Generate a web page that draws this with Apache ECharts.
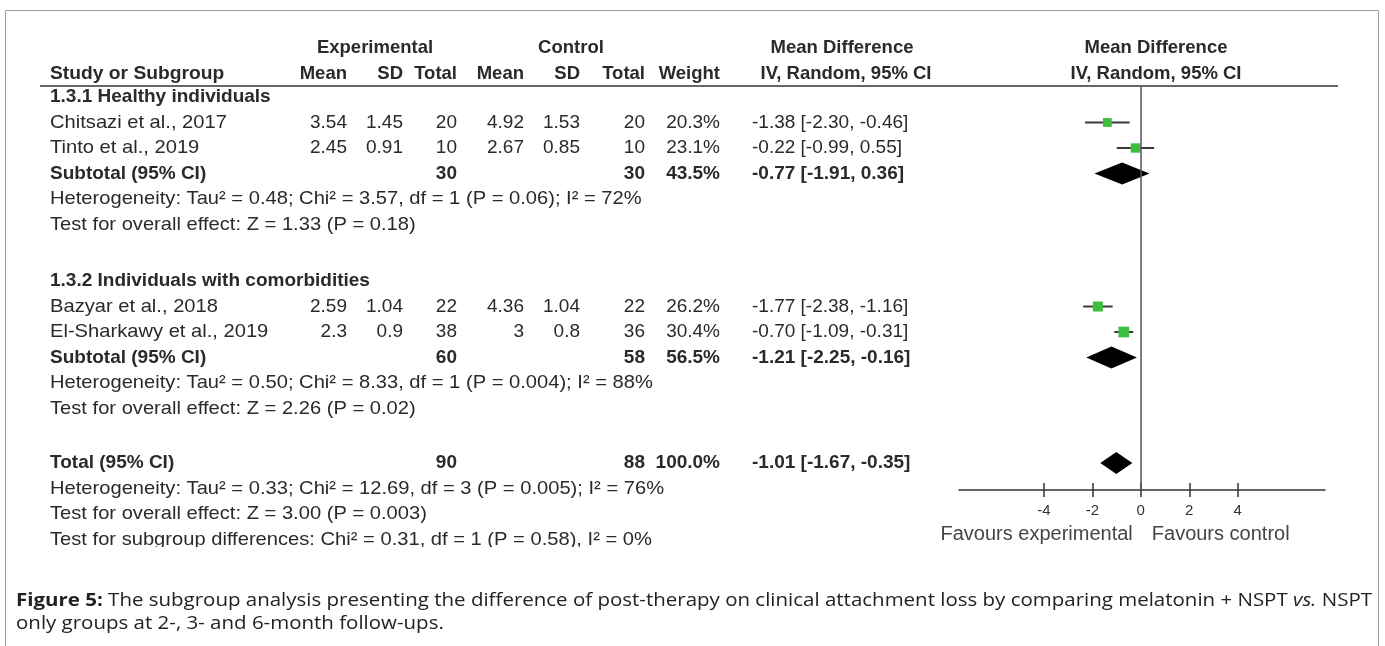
<!DOCTYPE html>
<html><head><meta charset="utf-8">
<script src="https://cdn.jsdelivr.net/npm/echarts/dist/echarts.min.js"></script>
<style>html,body{margin:0;padding:0;background:#fff}#c{width:1385px;height:646px}</style>
</head><body><div id="c"></div>
<script>
// ---------------- data ----------------
const studyNames = ['Chitsazi et al., 2017', 'Tinto et al., 2019', 'Bazyar et al., 2018', 'El-Sharkawy et al., 2019'];
const studyGroup = [0, 0, 1, 1];
const expMean = [3.54, 2.45, 2.59, 2.3];
const expSD = [1.45, 0.91, 1.04, 0.9];
const expTotal = [20, 10, 22, 38];
const ctlMean = [4.92, 2.67, 4.36, 3];
const ctlSD = [1.53, 0.85, 1.04, 0.8];
const ctlTotal = [20, 10, 22, 36];
const studyWeight = [20.3, 23.1, 26.2, 30.4];
const studyMD = [-1.38, -0.22, -1.77, -0.70];
const studyLow = [-2.30, -0.99, -2.38, -1.09];
const studyHigh = [-0.46, 0.55, -1.16, -0.31];

const groupNames = ['1.3.1 Healthy individuals', '1.3.2 Individuals with comorbidities'];
const groupExpTotal = [30, 60];
const groupCtlTotal = [30, 58];
const groupWeight = [43.5, 56.5];
const groupMD = [-0.77, -1.21];
const groupLow = [-1.91, -2.25];
const groupHigh = [0.36, -0.16];
const groupHet = ['Heterogeneity: Tau\u00B2 = 0.48; Chi\u00B2 = 3.57, df = 1 (P = 0.06); I\u00B2 = 72%',
                  'Heterogeneity: Tau\u00B2 = 0.50; Chi\u00B2 = 8.33, df = 1 (P = 0.004); I\u00B2 = 88%'];
const groupTest = ['Test for overall effect: Z = 1.33 (P = 0.18)', 'Test for overall effect: Z = 2.26 (P = 0.02)'];

const totalExp = [90];
const totalCtl = [88];
const totalWeight = [100.0];
const totalMD = [-1.01];
const totalLow = [-1.67];
const totalHigh = [-0.35];
const totalHet = 'Heterogeneity: Tau\u00B2 = 0.33; Chi\u00B2 = 12.69, df = 3 (P = 0.005); I\u00B2 = 76%';
const totalTest = 'Test for overall effect: Z = 3.00 (P = 0.003)';
const subgroupTest = 'Test for subgroup differences: Chi\u00B2 = 0.31, df = 1 (P = 0.58), I\u00B2 = 0%';

const axisTicks = [-4, -2, 0, 2, 4];
const favourLabels = ['Favours experimental', 'Favours control'];
const headerTop = ['Experimental', 'Control', 'Mean Difference', 'Mean Difference'];
const headerCols = ['Study or Subgroup', 'Mean', 'SD', 'Total', 'Mean', 'SD', 'Total', 'Weight', 'IV, Random, 95% CI', 'IV, Random, 95% CI'];
const captionBold = 'Figure 5:';
const captionText1 = ' The subgroup analysis presenting the difference of post-therapy on clinical attachment loss by comparing melatonin + NSPT ';
const captionItalic = 'vs.';
const captionText1b = ' NSPT';
const captionText2 = 'only groups at 2-, 3- and 6-month follow-ups.';

// ---------------- layout ----------------
const FF = '"Liberation Sans", Arial, sans-serif';
const CF = '"Open Sans", sans-serif';
const BODY = 19, HEAD = 18.5;
const NAME_SCALE = 1.06;
const TXT = '#2a2a2a';
const TOP0 = 97, PITCH = 25.5, GRID_TOP = 86, AXIS_Y = 490;
const SPACER_GROUP = 1.216, SPACER_TOTAL = 1.137;
const yMin = (GRID_TOP - TOP0) / PITCH, yMax = (AXIS_Y - TOP0) / PITCH;
const COL = { name: 50, expMean: 347, expSD: 403, expTotal: 457, ctlMean: 524, ctlSD: 580, ctlTotal: 645, weight: 720, ci: 752 };

const fmt2 = v => v.toFixed(2);
const ciText = (m, l, h) => fmt2(m) + ' [' + fmt2(l) + ', ' + fmt2(h) + ']';

// build row structure from data
const rows = [];
const studyPts = [];
const diamondPts = [];
let r = 0;
groupNames.forEach((g, gi) => {
  if (gi > 0) r += SPACER_GROUP;
  rows.push({ r, cells: [{ c: 'name', t: g, b: true }] }); r++;
  studyNames.forEach((n, i) => {
    if (studyGroup[i] !== gi) return;
    rows.push({ r, cells: [
      { c: 'name', t: n }, { c: 'expMean', t: String(expMean[i]) }, { c: 'expSD', t: String(expSD[i]) },
      { c: 'expTotal', t: String(expTotal[i]) }, { c: 'ctlMean', t: String(ctlMean[i]) }, { c: 'ctlSD', t: String(ctlSD[i]) },
      { c: 'ctlTotal', t: String(ctlTotal[i]) }, { c: 'weight', t: studyWeight[i].toFixed(1) + '%' },
      { c: 'ci', t: ciText(studyMD[i], studyLow[i], studyHigh[i]) }] });
    studyPts.push([studyMD[i], r, studyLow[i], studyHigh[i], studyWeight[i]]);
    r++;
  });
  rows.push({ r, cells: [
    { c: 'name', t: 'Subtotal (95% CI)', b: true }, { c: 'expTotal', t: String(groupExpTotal[gi]), b: true },
    { c: 'ctlTotal', t: String(groupCtlTotal[gi]), b: true }, { c: 'weight', t: groupWeight[gi].toFixed(1) + '%', b: true },
    { c: 'ci', t: ciText(groupMD[gi], groupLow[gi], groupHigh[gi]), b: true }] });
  diamondPts.push([groupMD[gi], r, groupLow[gi], groupHigh[gi]]);
  r++;
  rows.push({ r, cells: [{ c: 'name', t: groupHet[gi] }] }); r++;
  rows.push({ r, cells: [{ c: 'name', t: groupTest[gi] }] }); r++;
});
r += SPACER_TOTAL;
rows.push({ r, cells: [
  { c: 'name', t: 'Total (95% CI)', b: true }, { c: 'expTotal', t: String(totalExp[0]), b: true },
  { c: 'ctlTotal', t: String(totalCtl[0]), b: true }, { c: 'weight', t: totalWeight[0].toFixed(1) + '%', b: true },
  { c: 'ci', t: ciText(totalMD[0], totalLow[0], totalHigh[0]), b: true }] });
diamondPts.push([totalMD[0], r, totalLow[0], totalHigh[0]]);
r++;
rows.push({ r, cells: [{ c: 'name', t: totalHet }] }); r++;
rows.push({ r, cells: [{ c: 'name', t: totalTest }] }); r++;
// the source figure is cropped just under this last line
rows.push({ r, cropped: true, cells: [{ c: 'name', t: subgroupTest }] }); r++;

const alignOf = c => (c === 'name' || c === 'ci') ? 'left' : 'right';

const chart = echarts.init(document.getElementById('c'));

function txt(x, y, text, opt) {
  opt = opt || {};
  return {
    type: 'text', x: x, y: y, silent: true, z: 10, scaleX: opt.scaleX || 1, originX: 0, originY: 0,
    style: {
      text: text, fill: opt.fill || TXT,
      fontSize: opt.size || BODY, fontFamily: opt.family || FF, fontWeight: opt.bold ? 'bold' : 'normal',
      textAlign: opt.align || 'left', align: opt.align || 'left',
      textVerticalAlign: 'middle', verticalAlign: 'middle'
    }
  };
}

// caption width fitting
const mctx = document.createElement('canvas').getContext('2d');
function measure(str, font) { mctx.font = font; return mctx.measureText(str).width; }
const CAP_SIZE = 18;
const capW = measure(captionBold, 'bold ' + CAP_SIZE + 'px ' + CF) + measure(captionText1 + captionText1b, CAP_SIZE + 'px ' + CF) + measure(captionItalic, 'italic ' + CAP_SIZE + 'px ' + CF);
const capScale = (1372 - 16) / capW;

const graphics = [
  { type: 'rect', shape: { x: 5.5, y: 10.5, width: 1373, height: 700 }, style: { fill: 'none', stroke: '#9a9a9a', lineWidth: 1 }, silent: true },
  { type: 'line', shape: { x1: 40, y1: GRID_TOP, x2: 1338, y2: GRID_TOP }, style: { stroke: '#333', lineWidth: 1.5 }, silent: true, z: 5 },
  txt(375, 48, headerTop[0], { bold: true, size: HEAD, align: 'center' }),
  txt(571, 48, headerTop[1], { bold: true, size: HEAD, align: 'center' }),
  txt(842, 48, headerTop[2], { bold: true, size: HEAD, align: 'center' }),
  txt(1156, 48, headerTop[3], { bold: true, size: HEAD, align: 'center' }),
  txt(COL.name, 74, headerCols[0], { bold: true, size: HEAD, scaleX: 1.04 }),
  txt(COL.expMean, 74, headerCols[1], { bold: true, size: HEAD, align: 'right' }),
  txt(COL.expSD, 74, headerCols[2], { bold: true, size: HEAD, align: 'right' }),
  txt(COL.expTotal, 74, headerCols[3], { bold: true, size: HEAD, align: 'right' }),
  txt(COL.ctlMean, 74, headerCols[4], { bold: true, size: HEAD, align: 'right' }),
  txt(COL.ctlSD, 74, headerCols[5], { bold: true, size: HEAD, align: 'right' }),
  txt(COL.ctlTotal, 74, headerCols[6], { bold: true, size: HEAD, align: 'right' }),
  txt(COL.weight, 74, headerCols[7], { bold: true, size: HEAD, align: 'right' }),
  txt(846, 74, headerCols[8], { bold: true, size: HEAD, align: 'center' }),
  txt(1156, 74, headerCols[9], { bold: true, size: HEAD, align: 'center' }),
  {
    type: 'text', x: 16, y: 601, scaleX: capScale, originX: 0, originY: 0, silent: true,
    style: {
      text: '{b|' + captionBold + '}' + captionText1 + '{i|' + captionItalic + '}' + captionText1b,
      fontSize: CAP_SIZE, fontFamily: CF, fill: '#222', verticalAlign: 'middle', textVerticalAlign: 'middle',
      rich: { b: { fontWeight: 'bold', fontSize: CAP_SIZE, fontFamily: CF, fill: '#222' }, i: { fontStyle: 'italic', fontSize: CAP_SIZE, fontFamily: CF, fill: '#222' } }
    }
  },
  {
    type: 'text', x: 16, y: 624, scaleX: capScale, originX: 0, originY: 0, silent: true,
    style: { text: captionText2, fontSize: CAP_SIZE, fontFamily: CF, fill: '#222', verticalAlign: 'middle', textVerticalAlign: 'middle' }
  }
];

const xBase = { type: 'value', min: -7.5, max: 7.6, gridIndex: 0, position: 'bottom', splitLine: { show: false } };

chart.setOption({
  animation: false,
  grid: [{ left: 959, width: 366, top: GRID_TOP, height: AXIS_Y - GRID_TOP }],
  xAxis: [
    Object.assign({}, xBase, {
      axisLine: { show: true, onZero: false, lineStyle: { color: '#333', width: 1.5 } },
      axisTick: { show: true, customValues: axisTicks, length: 7, lineStyle: { color: '#333', width: 1.5 } },
      axisLabel: { show: true, customValues: axisTicks, fontSize: 15, color: '#333', margin: 13, fontFamily: FF }
    }),
    Object.assign({}, xBase, {
      axisLine: { show: false, onZero: false },
      axisTick: { show: true, inside: true, customValues: axisTicks, length: 7, lineStyle: { color: '#333', width: 1.5 } },
      axisLabel: { show: false }
    })
  ],
  yAxis: [{ type: 'value', inverse: true, min: yMin, max: yMax, show: false, gridIndex: 0 }],
  graphic: graphics,
  series: [
    {
      type: 'custom', name: 'studies', xAxisIndex: 0, yAxisIndex: 0, clip: false,
      data: studyPts, encode: { x: [0, 2, 3], y: 1 },
      renderItem: function (params, api) {
        const rr = api.value(1);
        const pm = api.coord([api.value(0), rr]);
        const pl = api.coord([api.value(2), rr]);
        const ph = api.coord([api.value(3), rr]);
        const s = 1.95 * Math.sqrt(api.value(4));
        return { type: 'group', children: [
          { type: 'line', shape: { x1: pl[0], y1: pl[1], x2: ph[0], y2: ph[1] }, style: { stroke: '#3a3a3a', lineWidth: 2 } },
          { type: 'rect', shape: { x: pm[0] - s / 2, y: pm[1] - s / 2, width: s, height: s }, style: { fill: '#3cbf3c' } }
        ] };
      },
      markLine: {
        silent: true, symbol: 'none', label: { show: false },
        lineStyle: { color: '#555', width: 1.5, type: 'solid' },
        data: [{ xAxis: 0 }]
      },
      z: 3
    },
    {
      type: 'custom', name: 'diamonds', xAxisIndex: 0, yAxisIndex: 0, clip: false,
      data: diamondPts, encode: { x: [0, 2, 3], y: 1 },
      renderItem: function (params, api) {
        const rr = api.value(1);
        const pm = api.coord([api.value(0), rr]);
        const pl = api.coord([api.value(2), rr]);
        const ph = api.coord([api.value(3), rr]);
        const h = 11;
        return { type: 'polygon', shape: { points: [[pl[0], pl[1]], [pm[0], pm[1] - h], [ph[0], ph[1]], [pm[0], pm[1] + h]] }, style: { fill: '#000' } };
      },
      z: 4
    },
    {
      type: 'custom', name: 'table', xAxisIndex: 0, yAxisIndex: 0, clip: false, silent: true,
      data: rows.map((row, idx) => [0, row.r, idx]),
      renderItem: function (params, api) {
        const row = rows[api.value(2)];
        const y = api.coord([0, api.value(1)])[1];
        const children = row.cells.map(cell => ({
          type: 'text', x: COL[cell.c], y: y, originX: 0, originY: 0,
          scaleX: (cell.c === 'name' && !cell.b) ? NAME_SCALE : 1,
          style: {
            x: 0, y: 0,
            text: cell.t, fill: TXT, fontSize: BODY, fontFamily: FF, fontWeight: cell.b ? 'bold' : 'normal',
            textAlign: alignOf(cell.c), align: alignOf(cell.c), textVerticalAlign: 'middle', verticalAlign: 'middle'
          }
        }));
        if (row.cropped) {
          children.push({ type: 'rect', shape: { x: 40, y: y + 7.5, width: 720, height: 14 }, style: { fill: '#fff' } });
        }
        return { type: 'group', children: children };
      },
      z: 5
    }
  ]
});

// favour labels positioned on the axis scale
const px0 = chart.convertToPixel({ xAxisIndex: 0 }, 0);
chart.setOption({
  graphic: graphics.concat([
    txt(px0 - 8, 534, favourLabels[0], { size: 20, align: 'right', fill: '#454545' }),
    txt(px0 + 11, 534, favourLabels[1], { size: 20, align: 'left', fill: '#454545' })
  ])
});
</script>
</body></html>
